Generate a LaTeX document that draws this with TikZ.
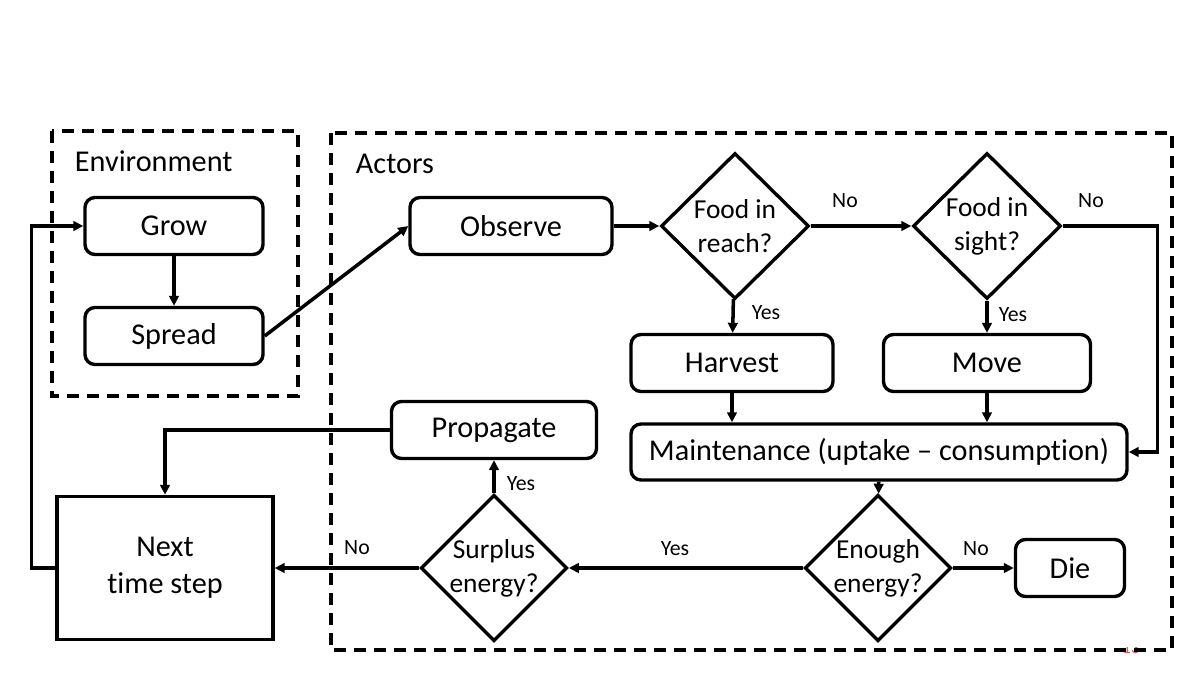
\documentclass[tikz,border=0pt]{standalone}
\usepackage{fontspec}
\setmainfont{Carlito}[Ligatures=NoCommon]
\usetikzlibrary{arrows.meta,shapes.geometric}
\definecolor{slidered}{HTML}{E05A5A}

\tikzset{
  box/.style={draw, line width=2.4pt, rounded corners=2.5mm, inner sep=0pt,
    minimum height=14.25mm, font=\fontsize{21.5}{26}\selectfont},
  stepbox/.style={draw, line width=2.4pt, inner sep=0pt, align=center,
    minimum width=54mm, minimum height=35.75mm, font=\fontsize{21.5}{26}\selectfont},
  choice/.style={draw, diamond, line width=2.4pt, inner sep=0pt, align=center,
    minimum width=37mm, minimum height=36.5mm, font=\fontsize{19.5}{24}\selectfont},
  frame/.style={line width=2.5pt, dash pattern=on 3mm off 2mm},
  link/.style={->, line width=2.5pt},
  lbl/.style={font=\fontsize{15.5}{18}\selectfont},
  title/.style={anchor=west, font=\fontsize{21.5}{25}\selectfont}
}

\begin{document}
\begin{tikzpicture}[>={Triangle[length=2.5mm,width=2.4mm]}, x=0.25mm, y=-0.25mm]
\useasboundingbox (0,0) rectangle (1200,675);

% slide number, mostly hidden under the frame
\begin{scope}
  \clip (1100,647) rectangle (1165,675);
  \node[slidered, font=\fontsize{12}{14}\selectfont] (pagenum) at (1131,648) {13};
\end{scope}

% Dashed group frames
\draw[frame] (52,131) rectangle (298,396);
\draw[frame] (331,133) rectangle (1172,650);
\node[title] (envtitle) at (70,161) {Environment};
\node[title] (acttitle) at (351,164) {Actors};

% Environment
\node[box, minimum width=44.5mm] (grow) at (174,226) {Grow};
\node[box, minimum width=44.5mm] (spread) at (174,336) {Spread};

% Actors
\node[box, minimum width=50.5mm] (observe) at (511,226) {Observe};
\node[choice] (reach) at (735,226) {Food in\\reach?};
\node[choice] (sight) at (987,226) {Food in\\sight?};
\node[box, minimum width=50.5mm] (harvest) at (732,363) {Harvest};
\node[box, minimum width=51.75mm] (move) at (987,363) {Move};
\node[box, minimum width=124mm, minimum height=14mm] (maint) at (879,452) {Maintenance (uptake -- consumption)};
\node[choice, minimum width=36mm, minimum height=35.75mm] (enough) at (878,568) {Enough\\energy?};
\node[box, minimum width=27.25mm] (die) at (1070,568) {Die};
\node[choice, minimum width=36mm, minimum height=35.75mm] (surplus) at (494,568) {Surplus\\energy?};
\node[box, minimum width=51.25mm] (prop) at (494,430) {Propagate};

% Next time step
\node[stepbox] (next) at (165,568) {Next\\time step};

% Connectors
\draw[link] (grow) -- (spread);
\draw[link] (spread.east) -- (observe.west);
\draw[link] (observe) -- (reach);
\draw[link] (reach) -- (sight);
\draw[link] (reach) -- (harvest);
\draw[link] (sight) -- (move);
\draw[link] (sight.east) -- ++(95,0) |- (maint.east);
\draw[link] (harvest.south) -- (harvest.south |- maint.north);
\draw[link] (move.south) -- (move.south |- maint.north);
\draw[link] (maint) -- (enough);
\draw[link] (enough) -- (die);
\draw[link] (enough) -- (surplus);
\draw[link] (surplus) -- (prop);
\draw[link] (surplus) -- (next);
\draw[link] (prop.west) -| (next.north);
\draw[link] (next.west) -- ++(-24,0) |- (grow.west);

% Branch labels
\node[lbl] (noreach) at (845,201) {No};
\node[lbl] (nosight) at (1091,201) {No};
\node[lbl] (yesreach) at (766,313) {Yes};
\node[lbl] (yessight) at (1013,315) {Yes};
\node[lbl] (yessurplus) at (521,484) {Yes};
\node[lbl] (nosurplus) at (357,548) {No};
\node[lbl] (yesenough) at (675,549) {Yes};
\node[lbl] (noenough) at (976,549) {No};

\end{tikzpicture}
\end{document}
